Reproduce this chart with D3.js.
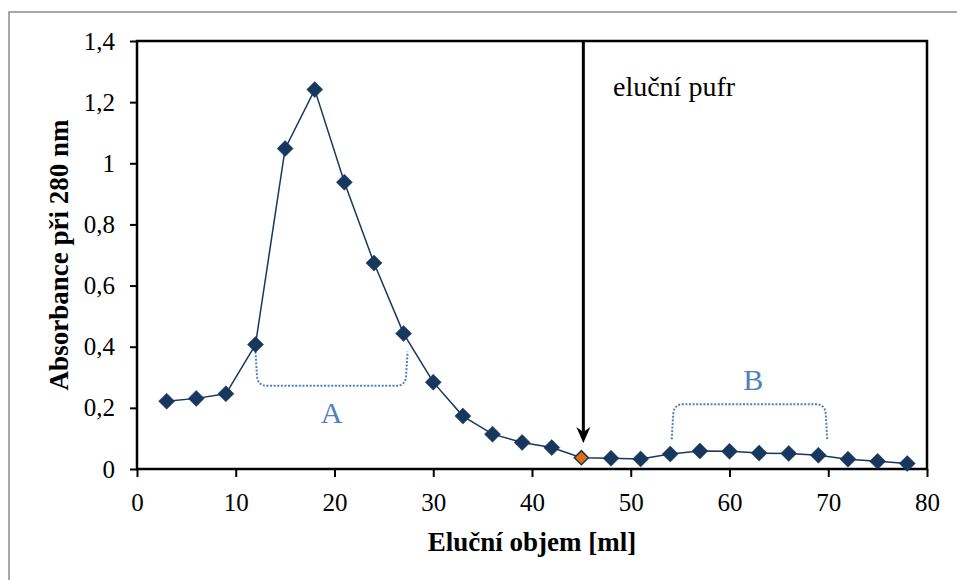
<!DOCTYPE html>
<html>
<head>
<meta charset="utf-8">
<script src="https://cdn.jsdelivr.net/npm/d3@7"></script>
<style>
    body { margin: 0; background: #fff; }
    text { font-family: 'Liberation Serif', 'Times New Roman', serif; }
</style>
</head>
<body>
<div id="chart"></div>
<script>

// D A T A
var elutionVolume = [3, 6, 9, 12, 15, 18, 21, 24, 27, 30, 33, 36, 39, 42, 45, 48, 51, 54, 57, 60, 63, 66, 69, 72, 75, 78];
var absorbance = [0.222, 0.231, 0.246, 0.407, 1.048, 1.241, 0.938, 0.674, 0.443, 0.284, 0.173, 0.114, 0.087, 0.070, 0.037, 0.035, 0.033, 0.049, 0.059, 0.058, 0.052, 0.051, 0.045, 0.032, 0.025, 0.018];
var highlightVolume = 45;

var xTicks = [0, 10, 20, 30, 40, 50, 60, 70, 80];
var yTicks = [0, 0.2, 0.4, 0.6, 0.8, 1, 1.2, 1.4];
var yTickLabels = ['0', '0,2', '0,4', '0,6', '0,8', '1', '1,2', '1,4'];

// annotations (in data units)
var arrowX = 45.2;
var arrowTipY = 0.085;
var bufferLabel = ['eluční pufr', 48.2, 1.22];
var bracketNames = ['A', 'B'];
var bracketX = [[12, 27.4], [54.15, 69.9]];
var bracketEndY = [0.384, 0.097];
var bracketMidY = [0.272, 0.212];
var bracketLabelPos = [[19.7, 0.15], [62.4, 0.258]];

window.onload = function () {

    var margin = { top: 41, right: 30, bottom: 111, left: 137 };
    const width = 957;
    const height = 580;
    const plotW = width - margin.left - margin.right;
    const plotH = height - margin.top - margin.bottom;
    const navy = '#17375e';
    const blue = '#4f81bd';

    var svg = d3.select('#chart').append('svg')
        .attr('width', width)
        .attr('height', height);

    // O U T E R  G R E Y  F R A M E
    svg.append('rect')
        .attr('x', 9).attr('y', 12)
        .attr('width', width).attr('height', height)
        .attr('fill', 'none')
        .attr('stroke', '#8c8c8c')
        .attr('stroke-width', 1.5);

    var g = svg.append('g')
        .attr('transform', 'translate(' + margin.left + ',' + margin.top + ')');

    var x = d3.scaleLinear().domain([0, 80]).range([0, plotW]);
    var y = d3.scaleLinear().domain([0, 1.4]).range([plotH, 0]);

    // A X E S
    var xAxis = d3.axisBottom(x).tickValues(xTicks).tickSize(8).tickSizeOuter(0).tickPadding(16);
    var yAxis = d3.axisLeft(y).tickValues(yTicks).tickSize(7).tickSizeOuter(0).tickPadding(15)
        .tickFormat(function (d, i) { return yTickLabels[i]; });

    var gx = g.append('g').attr('transform', 'translate(0,' + plotH + ')').call(xAxis);
    var gy = g.append('g').call(yAxis);

    [gx, gy].forEach(function (a) {
        a.select('.domain').remove();
        a.selectAll('line').attr('stroke', '#000').attr('stroke-width', 2);
        a.selectAll('text')
            .attr('fill', '#000')
            .style('font-size', '25px')
            .style('font-family', "'Liberation Serif', 'Times New Roman', serif");
    });

    // P L O T  F R A M E
    g.append('rect')
        .attr('width', plotW).attr('height', plotH)
        .attr('fill', 'none')
        .attr('stroke', '#000')
        .attr('stroke-width', 2.5);

    // A X I S  T I T L E S
    svg.append('text')
        .attr('x', margin.left + plotW / 2)
        .attr('y', 551)
        .attr('text-anchor', 'middle')
        .style('font-size', '27px')
        .style('font-weight', 'bold')
        .text('Eluční objem [ml]');

    svg.append('text')
        .attr('transform', 'translate(68,' + (margin.top + plotH / 2) + ') rotate(-90)')
        .attr('text-anchor', 'middle')
        .style('font-size', '27px')
        .style('font-weight', 'bold')
        .text('Absorbance při 280 nm');

    // B R A C K E T S
    var r = 10;
    bracketNames.forEach(function (name, i) {
        var x1 = x(bracketX[i][0]), x2 = x(bracketX[i][1]);
        var yEnd = y(bracketEndY[i]), yMid = y(bracketMidY[i]);
        var s = yMid > yEnd ? 1 : -1;
        var p = d3.path();
        p.moveTo(x1, yEnd);
        p.lineTo(x1 + 1.5, yMid - s * r);
        p.quadraticCurveTo(x1 + 2, yMid, x1 + r + 2, yMid);
        p.lineTo(x2 - r - 2, yMid);
        p.quadraticCurveTo(x2 - 2, yMid, x2 - 1.5, yMid - s * r);
        p.lineTo(x2, yEnd);
        g.append('path')
            .attr('d', p.toString())
            .attr('fill', 'none')
            .attr('stroke', blue)
            .attr('stroke-width', 2)
            .attr('stroke-dasharray', '2,1.6');

        g.append('text')
            .attr('x', x(bracketLabelPos[i][0]))
            .attr('y', y(bracketLabelPos[i][1]))
            .attr('text-anchor', 'middle')
            .attr('fill', blue)
            .style('font-size', '30px')
            .text(name);
    });

    // L I N E  A N D  M A R K E R S
    var line = d3.line()
        .x(function (d, i) { return x(elutionVolume[i]); })
        .y(function (d) { return y(d); });

    g.append('path')
        .datum(absorbance)
        .attr('d', line)
        .attr('fill', 'none')
        .attr('stroke', navy)
        .attr('stroke-width', 1.5);

    var diamond = d3.symbol().type(d3.symbolSquare).size(128);

    g.selectAll('.pt').data(absorbance).enter().append('path')
        .attr('class', 'pt')
        .attr('d', function (d, i) {
            return elutionVolume[i] === highlightVolume ? d3.symbol().type(d3.symbolSquare).size(100)() : diamond();
        })
        .attr('transform', function (d, i) {
            return 'translate(' + x(elutionVolume[i]) + ',' + y(d) + ') rotate(45)';
        })
        .attr('fill', function (d, i) {
            return elutionVolume[i] === highlightVolume ? '#e46c0a' : navy;
        })
        .attr('stroke', navy)
        .attr('stroke-width', function (d, i) {
            return elutionVolume[i] === highlightVolume ? 1.5 : 0.5;
        });

    // A R R O W
    var ax = x(arrowX), tip = y(arrowTipY);
    g.append('line')
        .attr('x1', ax).attr('x2', ax)
        .attr('y1', 0).attr('y2', tip - 6)
        .attr('stroke', '#000')
        .attr('stroke-width', 3);
    g.append('path')
        .attr('d', 'M' + ax + ',' + tip + 'L' + (ax - 7) + ',' + (tip - 16) + 'L' + ax + ',' + (tip - 11) + 'L' + (ax + 7) + ',' + (tip - 16) + 'Z')
        .attr('fill', '#000');

    svg.append('text')
        .attr('x', margin.left + x(bufferLabel[1]))
        .attr('y', margin.top + y(bufferLabel[2]))
        .style('font-size', '28px')
        .text(bufferLabel[0]);

};
</script>
</body>
</html>
